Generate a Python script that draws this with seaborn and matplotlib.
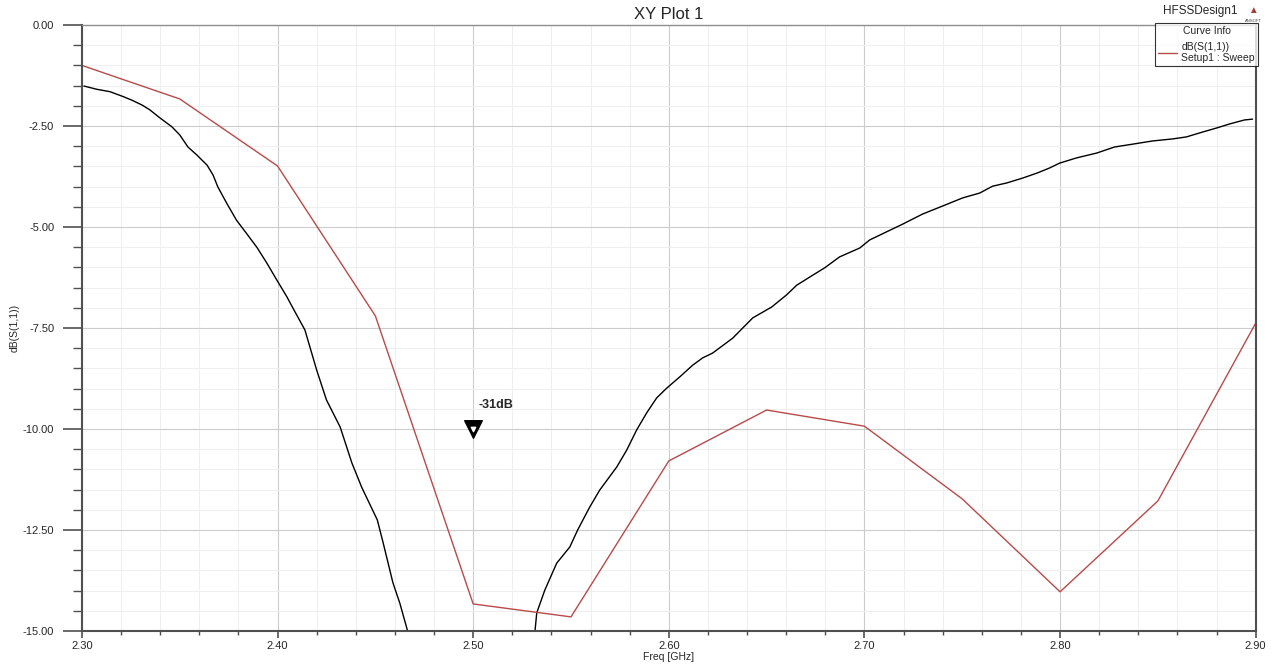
import numpy as np
import pandas as pd
import matplotlib
matplotlib.use("Agg")
import matplotlib.pyplot as plt
from matplotlib.ticker import MultipleLocator, FormatStrFormatter
import seaborn as sns

# Simulated S11 (HFSS sweep, red)
sim_freq = [2.30, 2.35, 2.40, 2.45, 2.50, 2.55, 2.60, 2.65, 2.70, 2.75, 2.80, 2.85, 2.90]
sim_db = [-1.00, -1.83, -3.49, -7.20, -14.33, -14.65, -10.79, -9.53, -9.93, -11.73, -14.03, -11.78, -7.38]

meas_freq = [2.301, 2.3075, 2.3143, 2.321, 2.3255, 2.3307, 2.3347, 2.3399, 2.346, 2.350,
             2.3542, 2.3588, 2.364, 2.367, 2.3695, 2.374, 2.379, 2.384, 2.3894, 2.3945,
             2.3996, 2.4048, 2.4078, 2.414, 2.420, 2.425, 2.432, 2.438, 2.443, 2.451,
             2.454, 2.459, 2.4625, 2.4666, 2.500, 2.5315, 2.5325, 2.5366, 2.5427, 2.5494,
             2.5534, 2.5596, 2.5647, 2.5734, 2.5785, 2.5836, 2.5887, 2.5938, 2.5989, 2.6056,
             2.6122, 2.6173, 2.6224, 2.6327, 2.6429, 2.6526, 2.6602, 2.6654, 2.6720, 2.6797,
             2.6873, 2.6976, 2.7027, 2.7113, 2.7195, 2.7297, 2.7400, 2.7502, 2.7589, 2.7655,
             2.7727, 2.7808, 2.7885, 2.7946, 2.7997, 2.8084, 2.8187, 2.8278, 2.8370, 2.8473,
             2.8575, 2.8646, 2.8728, 2.8800, 2.8866, 2.8943, 2.8984]
meas_db = [-1.51, -1.59, -1.65, -1.77, -1.86, -1.98, -2.10, -2.30, -2.52, -2.72,
           -3.02, -3.22, -3.47, -3.71, -4.01, -4.41, -4.83, -5.15, -5.50, -5.89,
           -6.31, -6.73, -7.00, -7.55, -8.54, -9.28, -9.95, -10.84, -11.44, -12.25,
           -12.82, -13.81, -14.31, -15.02, -31.0, -15.05, -14.55, -13.99, -13.32, -12.92,
           -12.50, -11.93, -11.51, -10.94, -10.52, -10.02, -9.60, -9.23, -8.99, -8.71,
           -8.42, -8.24, -8.12, -7.75, -7.25, -6.98, -6.68, -6.44, -6.24, -6.01,
           -5.74, -5.52, -5.32, -5.12, -4.93, -4.68, -4.48, -4.28, -4.16, -3.99,
           -3.91, -3.79, -3.66, -3.54, -3.42, -3.29, -3.17, -3.02, -2.95, -2.87,
           -2.82, -2.77, -2.65, -2.55, -2.45, -2.35, -2.33]

marker_freq = [2.50]
marker_db = [-10.0]
marker_text = "-31dB"

sim = pd.DataFrame({"freq": sim_freq, "db": sim_db})
meas = pd.DataFrame({"freq": meas_freq, "db": meas_db})

sns.set_theme(style="white")
plt.rcParams["font.family"] = ["Liberation Sans", "DejaVu Sans"]

fig = plt.figure(figsize=(12.8, 6.65), dpi=100)
ax = fig.add_axes([0.064, 0.0511, 0.917, 0.9113])

sns.lineplot(data=meas, x="freq", y="db", color="black", lw=1.0, ax=ax, legend=False)
sns.lineplot(data=sim, x="freq", y="db", color="#b84a4a", lw=1.0, ax=ax,
             label="dB(S(1,1))")

# marker
ax.scatter(marker_freq, marker_db, marker="v", s=160, color="black", zorder=5)
ax.scatter(marker_freq, marker_db, marker="v", s=10, color="white", zorder=6)
ax.annotate(marker_text, (marker_freq[0], marker_db[0]), xytext=(4, 15),
            textcoords="offset points", fontsize=9, fontweight="bold")

ax.set_xlim(2.30, 2.90)
ax.set_ylim(-15, 0)
ax.xaxis.set_major_locator(MultipleLocator(0.1))
ax.xaxis.set_minor_locator(MultipleLocator(0.02))
ax.yaxis.set_major_locator(MultipleLocator(2.5))
ax.yaxis.set_minor_locator(MultipleLocator(0.5))
ax.xaxis.set_major_formatter(FormatStrFormatter("%.2f"))
ax.yaxis.set_major_formatter(FormatStrFormatter("%.2f"))

ax.grid(which="major", color="#cccccc", lw=0.8)
ax.grid(which="minor", color="#efefef", lw=0.8)
ax.set_axisbelow(True)

ax.tick_params(axis="y", which="major", direction="out", length=14, width=1.2,
               color="#505050", labelsize=8, pad=6, left=True)
ax.tick_params(axis="y", which="minor", direction="out", length=6.5, width=1.0,
               color="#505050", left=True)
ax.tick_params(axis="x", which="major", direction="out", length=5, width=1.2,
               color="#505050", labelsize=8, pad=2, bottom=True)
ax.tick_params(axis="x", which="minor", direction="out", length=3, width=1.0,
               color="#505050", bottom=True)
for side in ["left", "bottom", "right"]:
    ax.spines[side].set_color("#505050")
    ax.spines[side].set_linewidth(1.5)
ax.spines["top"].set_color("#909090")
ax.spines["top"].set_linewidth(1.0)

ax.set_xlabel("Freq [GHz]", fontsize=7.5, labelpad=1)
ax.set_ylabel("dB(S(1,1))", fontsize=7.5, labelpad=2)
ax.set_title("XY Plot 1", fontsize=12, pad=4)

leg = ax.legend(title="Curve Info", loc="upper right", bbox_to_anchor=(1.002, 1.003),
                fontsize=7.5, title_fontsize=7.5, frameon=True, fancybox=False,
                handlelength=1.8, borderpad=0.3, handletextpad=0.4, borderaxespad=0)
leg.get_frame().set_edgecolor("black")
leg.get_frame().set_linewidth(0.8)
leg.get_texts()[0].set_text("dB(S(1,1))\nSetup1 : Sweep")

fig.text(0.9085, 0.983, "HFSSDesign1", fontsize=8.5, ha="left", va="center")
fig.text(0.979, 0.985, "\u25b2", fontsize=7, color="#a83a3a", ha="center", va="center")
fig.text(0.979, 0.968, "ANSOFT", fontsize=3, color="#404040", ha="center", va="center")

fig.savefig("out.png", dpi=100)
